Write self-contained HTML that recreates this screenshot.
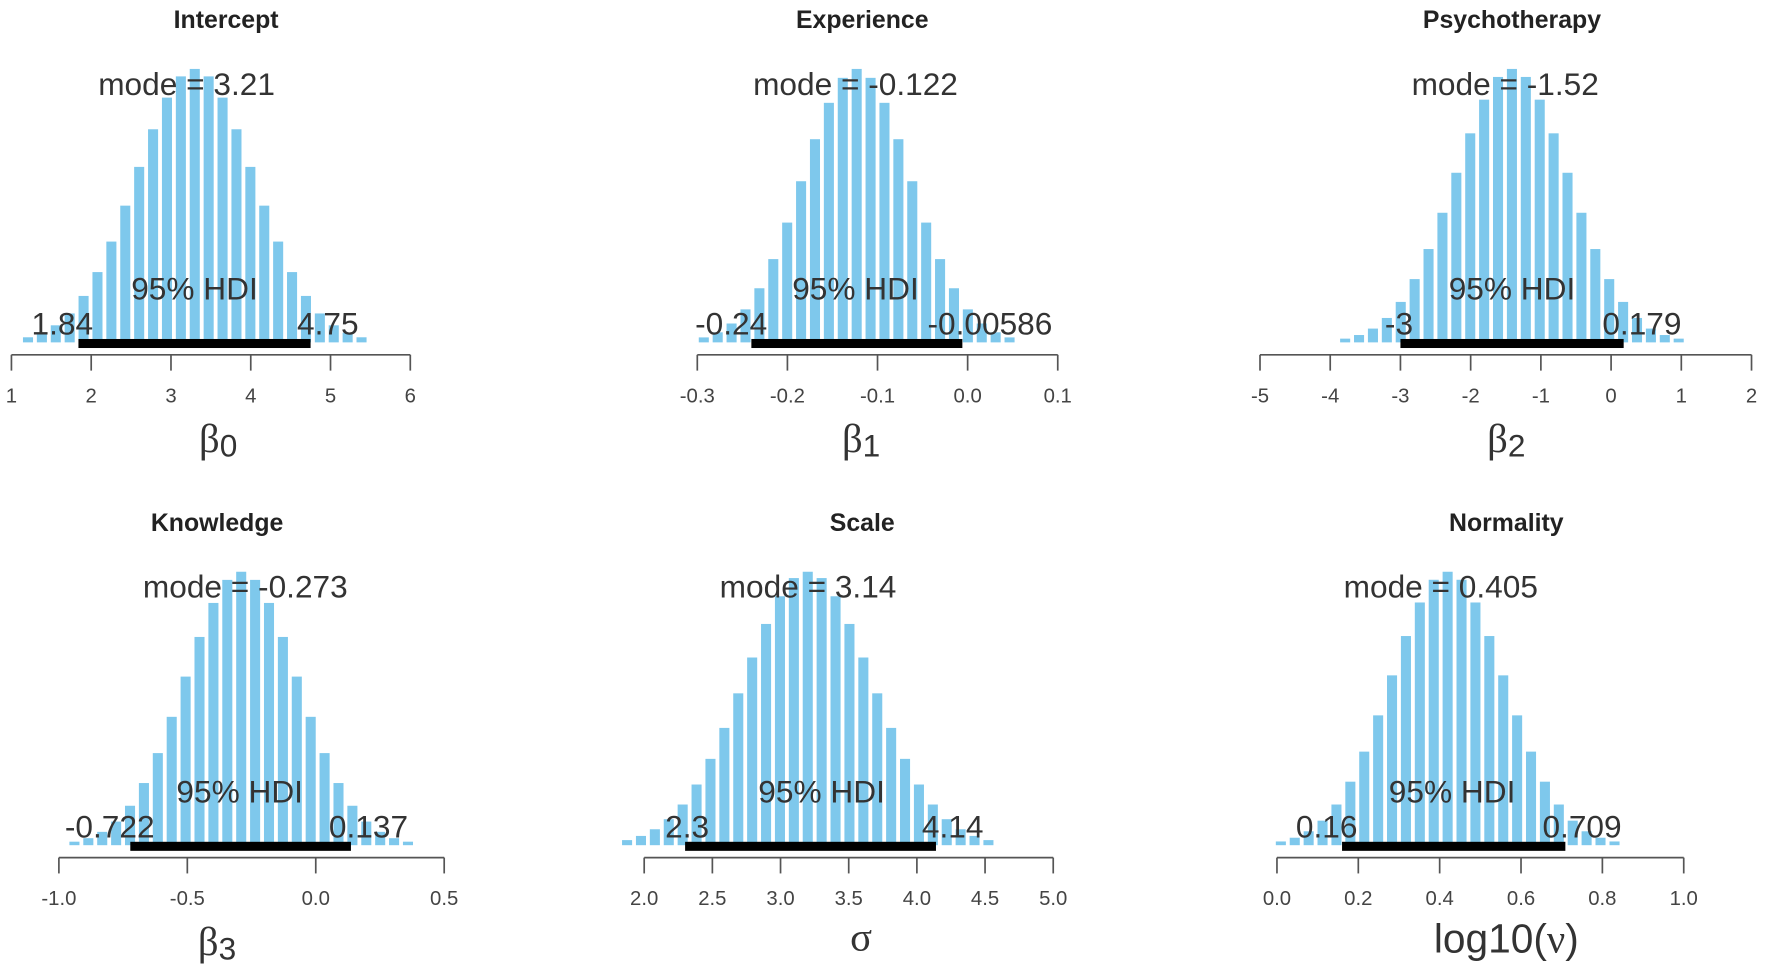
<!DOCTYPE html>
<html><head><meta charset="utf-8"><style>
html,body{margin:0;padding:0;background:#fff;}
svg{display:block}
</style></head><body>
<svg id="s" width="1772" height="974" viewBox="0 0 1568 862" xmlns="http://www.w3.org/2000/svg"></svg>
<script>
const P=[
 {t:"Intercept",tc:200,xc:193,oy:0,x0:10,x1:363,v0:1,v1:6,ticks:["1","2","3","4","5","6"],mean:3.3,sd:0.74,peak:242,
  mode:"mode = 3.21",mc:165,hd:[1.84,4.75],hl:["1.84","4.75"],hx:[55,290],hc:172,xl:"β",sub:"0"},
 {t:"Experience",tc:763,xc:762,oy:0,x0:617,x1:936,v0:-0.3,v1:0.1,ticks:["-0.3","-0.2","-0.1","0.0","0.1"],mean:-0.123,sd:0.06,peak:242,
  mode:"mode = -0.122",mc:757,hd:[-0.24,-0.00586],hl:["-0.24","-0.00586"],hx:[647,876],hc:757,xl:"β",sub:"1"},
 {t:"Psychotherapy",tc:1338,xc:1333,oy:0,x0:1115,x1:1550,v0:-5,v1:2,ticks:["-5","-4","-3","-2","-1","0","1","2"],mean:-1.41,sd:0.81,peak:242,
  mode:"mode = -1.52",mc:1332,hd:[-3,0.179],hl:["-3","0.179"],hx:[1238,1453],hc:1338,xl:"β",sub:"2"},
 {t:"Knowledge",tc:192,xc:192,oy:445,x0:52,x1:393,v0:-1,v1:0.5,ticks:["-1.0","-0.5","0.0","0.5"],mean:-0.29,sd:0.22,peak:242,
  mode:"mode = -0.273",mc:217,hd:[-0.722,0.137],hl:["-0.722","0.137"],hx:[97,326],hc:212,xl:"β",sub:"3"},
 {t:"Scale",tc:763,xc:762,oy:445,x0:570,x1:932,v0:2,v1:5,ticks:["2.0","2.5","3.0","3.5","4.0","4.5","5.0"],mean:3.2,sd:0.47,peak:242,
  mode:"mode = 3.14",mc:715,hd:[2.3,4.14],hl:["2.3","4.14"],hx:[608,843],hc:727,xl:"σ",sub:""},
 {t:"Normality",tc:1333,xc:1333,oy:445,x0:1130,x1:1490,v0:0,v1:1,ticks:["0.0","0.2","0.4","0.6","0.8","1.0"],mean:0.42,sd:0.14,peak:242,
  mode:"mode = 0.405",mc:1275,hd:[0.16,0.709],hl:["0.16","0.709"],hx:[1174,1400],hc:1285,xl:"log10(ν)",sub:""}
];
let h="";
const sans='font-family="Liberation Sans, sans-serif"';
for(const p of P){
 const oy=p.oy, sx=v=>p.x0+(v-p.v0)/(p.v1-p.v0)*(p.x1-p.x0);
 const base=303+oy, ax=314+oy;
 const m=sx(p.mean), sdp=sx(p.mean+p.sd)-m, bw=12.3;
 for(let k=-22;k<=22;k++){
  const c=m+k*bw; const z=(c-m)/sdp; if(Math.abs(z)>3.0) continue;
  let hh=p.peak*Math.exp(-0.5*z*z); if(hh<1.5) hh=1.5;
  h+=`<rect x="${(c-bw/2+1.6).toFixed(1)}" y="${(base-hh).toFixed(1)}" width="${(bw-3.4).toFixed(1)}" height="${hh.toFixed(1)}" fill="#7ec8ec"/>`;
 }
 h+=`<rect x="${sx(p.hd[0])}" y="${300+oy}" width="${sx(p.hd[1])-sx(p.hd[0])}" height="8" fill="#000"/>`;
 h+=`<line x1="${p.x0}" y1="${ax}" x2="${p.x1}" y2="${ax}" stroke="#555" stroke-width="1.5"/>`;
 const n=p.ticks.length;
 p.ticks.forEach((t,i)=>{const x=p.x0+i*(p.x1-p.x0)/(n-1);
  h+=`<line x1="${x}" y1="${ax}" x2="${x}" y2="${ax+14}" stroke="#555" stroke-width="1.5"/>`;
  h+=`<text x="${x}" y="${356+oy}" text-anchor="middle" font-size="18" fill="#444" ${sans}>${t}</text>`;});
 h+=`<text x="${p.tc}" y="${25+oy}" text-anchor="middle" font-size="22" font-weight="bold" fill="#222" ${sans}>${p.t}</text>`;
 h+=`<text x="${p.mc}" y="${84+oy}" text-anchor="middle" font-size="28" fill="#333" ${sans}>${p.mode}</text>`;
 h+=`<text x="${p.hc}" y="${265+oy}" text-anchor="middle" font-size="28" fill="#333" ${sans}>95% HDI</text>`;
 h+=`<text x="${p.hx[0]}" y="${296+oy}" text-anchor="middle" font-size="28" fill="#333" ${sans}>${p.hl[0]}</text>`;
 h+=`<text x="${p.hx[1]}" y="${296+oy}" text-anchor="middle" font-size="28" fill="#333" ${sans}>${p.hl[1]}</text>`;
 const cx=p.xc;
 if(p.sub) h+=`<text x="${cx}" y="${400+oy}" text-anchor="middle" font-size="36" fill="#333" font-family="Liberation Serif, serif">${p.xl}<tspan font-size="28" dy="4" font-family="Liberation Sans, sans-serif">${p.sub}</tspan></text>`;
 else if(p.xl==="σ") h+=`<text x="${cx}" y="${396+oy}" text-anchor="middle" font-size="36" fill="#333" font-family="Liberation Serif, serif">σ</text>`;
 else h+=`<text x="${cx}" y="${398+oy}" text-anchor="middle" font-size="36" fill="#333" ${sans}>log10(<tspan font-family="Liberation Serif, serif">ν</tspan>)</text>`;
}
document.getElementById("s").innerHTML=h;
</script>
</body></html>
